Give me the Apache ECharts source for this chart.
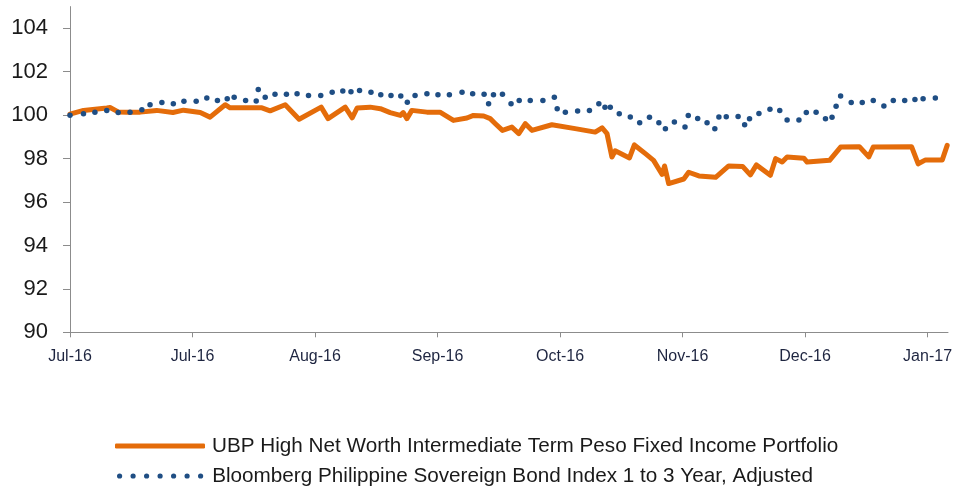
<!DOCTYPE html>
<html>
<head>
<meta charset="utf-8">
<script src="https://cdn.jsdelivr.net/npm/echarts@6/dist/echarts.min.js"></script>
<style>
html,body{margin:0;padding:0;background:#fff;}
#chart{width:956px;height:489px;}
</style>
</head>
<body>
<div id="chart"></div>
<script>
// Tick labels (one every 30 days from 1 Jul 2016)
const tickLabels = ['Jul-16','Jul-16','Aug-16','Sep-16','Oct-16','Nov-16','Dec-16','Jan-17'];
const yTicks = [90,92,94,96,98,100,102,104];

const seriesNames = [
  'UBP High Net Worth Intermediate Term Peso Fixed Income Portfolio',
  'Bloomberg Philippine Sovereign Bond Index 1 to 3 Year, Adjusted'
];

// Portfolio (days since start, value)
const portfolioDays = [0,3.3,9,9.8,11.8,13.9,17.2,21.2,25.2,27.8,31.9,34.3,38,39.2,47,49,52.7,56.1,61.5,63.2,67.4,69.1,70.3,73.5,76,78.4,80.9,81.6,82.5,83.7,87.4,90.6,93.9,97.2,98.8,101.3,102.9,104.1,105.9,108.2,109.9,111.5,113.1,118,123.7,128.6,130.3,131.5,132.7,133.5,137,138.2,140.9,142.9,145,145.6,146.6,150.3,151.5,154,158.1,161.3,164.7,166.6,168.1,171.5,172.8,174.4,175.6,179.7,180.5,186,188.7,193.3,195.6,196.7,206.1,207.7,209.5,213.6,214.8];
const portfolioValues = [100.05,100.22,100.33,100.35,100.15,100.14,100.14,100.22,100.12,100.23,100.12,99.91,100.48,100.34,100.34,100.2,100.48,99.81,100.37,99.84,100.37,99.88,100.33,100.37,100.3,100.12,99.99,100.12,99.84,100.22,100.14,100.14,99.76,99.87,99.99,99.96,99.84,99.62,99.3,99.45,99.15,99.61,99.3,99.56,99.38,99.22,99.42,99.15,98.07,98.36,98.03,98.63,98.23,97.92,97.27,97.66,96.85,97.06,97.37,97.2,97.14,97.66,97.64,97.25,97.71,97.23,98,97.84,98.07,98.02,97.84,97.92,98.53,98.55,98.08,98.53,98.54,97.76,97.94,97.94,98.61];

// Benchmark (days since start, value)
const benchmarkDays = [0,3.3,6.1,9,11.8,14.7,17.6,19.6,22.5,25.3,27.9,30.9,33.5,36.1,38.5,40.2,43,45.6,46.1,47.8,50.2,53,55.6,58.4,61.4,64.2,66.8,68.8,70.9,73.7,76.1,78.6,81,82.6,84.5,87.4,90.1,92.9,96,98.6,101.4,102.5,103.7,105.9,108,110,112.7,115.8,118.6,119.3,121.3,124.3,127.2,129.5,131,132.3,134.5,137.2,139.5,141.9,144.2,145.8,148,150.6,151.4,153.7,156,157.9,158.9,160.7,163.6,165.2,166.4,168.7,171.4,173.8,175.6,178.5,180.3,182.7,185,186.6,187.6,188.7,191.3,194,196.7,199.3,201.6,204.4,206.9,208.9,211.9];
const benchmarkValues = [100,100.07,100.14,100.22,100.12,100.14,100.25,100.48,100.58,100.53,100.64,100.64,100.79,100.67,100.76,100.82,100.68,100.65,101.18,100.83,100.96,100.96,100.99,100.91,100.91,101.05,101.11,101.08,101.14,101.06,100.94,100.91,100.88,100.6,100.91,100.99,100.94,100.94,101.06,100.99,100.96,100.53,100.94,100.96,100.53,100.68,100.68,100.68,100.83,100.3,100.14,100.19,100.22,100.53,100.36,100.37,100.07,99.91,99.65,99.9,99.65,99.38,99.68,99.45,99.99,99.85,99.65,99.38,99.91,99.93,99.94,99.56,99.84,100.08,100.27,100.22,99.78,99.78,100.12,100.13,99.83,99.9,100.41,100.88,100.58,100.58,100.67,100.42,100.68,100.68,100.72,100.76,100.79];

const orange = '#E46C0A';
const blue = '#1F4E84';

function dotsPath(n, r, gap){
  let p = '';
  for (let i = 0; i < n; i++){
    const cx = r + gap * i;
    p += 'M' + (cx - r) + ',' + r + 'a' + r + ',' + r + ' 0 1,0 ' + (2*r) + ',0a' + r + ',' + r + ' 0 1,0 ' + (-2*r) + ',0Z';
  }
  return 'path://' + p;
}

const chart = echarts.init(document.getElementById('chart'), null, {renderer:'canvas'});
const legendText = {fontFamily:'Liberation Sans', fontSize:20.7, color:'#1a1a1a', lineHeight:22};

chart.setOption({
  animation:false,
  backgroundColor:'#ffffff',
  grid:{left:70, right:8, top:6.6, bottom:156.7, containLabel:false},
  legend:[
    {
      data:[{name:seriesNames[0], icon:'roundRect'}],
      orient:'vertical', left:110, top:430, padding:5,
      itemWidth:90, itemHeight:5,
      textStyle:Object.assign({padding:[0,0,0,2]}, legendText),
      selectedMode:false
    },
    {
      data:[{name:seriesNames[1], icon:dotsPath(7,2.6,13.5)}],
      orient:'vertical', left:112, top:460, padding:5,
      itemWidth:86.2, itemHeight:5.2,
      textStyle:Object.assign({padding:[0,0,0,4]}, legendText),
      selectedMode:false
    }
  ],
  xAxis:{
    type:'value', min:0, max:215, interval:30,
    splitLine:{show:false},
    axisLine:{lineStyle:{color:'#8c8c8c', width:1}},
    axisTick:{show:true, length:5, customValues:[0,30,60,90,120,150,180,210], lineStyle:{color:'#8c8c8c'}},
    axisLabel:{
      customValues:[0,30,60,90,120,150,180,210],
      formatter:function(v){ return tickLabels[Math.round(v/30)]; },
      fontFamily:'Liberation Sans', fontSize:16, color:'#1e2540', margin:16
    }
  },
  yAxis:{
    type:'value', min:90, max:105, interval:1,
    splitLine:{show:false},
    axisLine:{show:true, lineStyle:{color:'#8c8c8c', width:1}},
    axisTick:{show:true, length:7, customValues:yTicks, lineStyle:{color:'#8c8c8c'}},
    axisLabel:{customValues:yTicks, fontFamily:'Liberation Sans', fontSize:22, color:'#1a1a1a', margin:22}
  },
  series:[
    {
      name:seriesNames[0], type:'line',
      data:portfolioDays.map((d,i)=>[d, portfolioValues[i]]),
      showSymbol:false, symbol:'none',
      itemStyle:{color:orange},
      lineStyle:{color:orange, width:5, join:'round', cap:'round'},
      z:2
    },
    {
      name:seriesNames[1], type:'line',
      data:benchmarkDays.map((d,i)=>[d, benchmarkValues[i]]),
      showSymbol:true, symbol:'circle', symbolSize:5.5,
      itemStyle:{color:blue, borderWidth:0},
      lineStyle:{opacity:0, width:0},
      z:3
    }
  ]
});
</script>
</body>
</html>
